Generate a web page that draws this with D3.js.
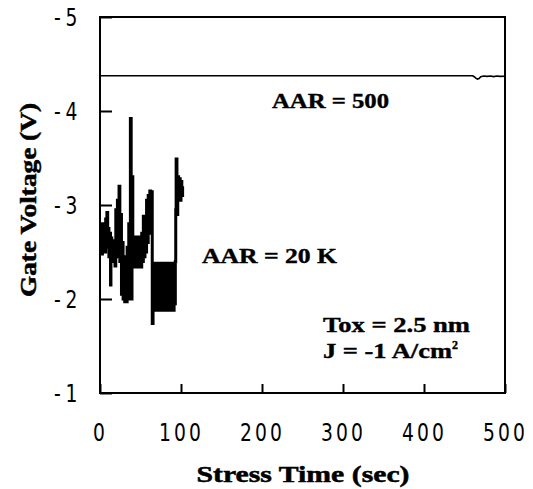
<!DOCTYPE html>
<html>
<head>
<meta charset="utf-8">
<script src="https://cdn.jsdelivr.net/npm/d3@7"></script>
<style>
body { margin: 0; background: #fff; }
#graph { width: 533px; height: 489px; }
</style>
</head>
<body>
<div id="graph"></div>
<script>
// tick values
var xTicks = [0, 100, 200, 300, 400, 500];
var yTicks = [-1, -2, -3, -4, -5];

// AAR = 500 trace (stress time in sec, gate voltage in V)
var aar500Time = [0, 460, 462, 464, 466, 468, 470, 474, 478, 482, 486, 490, 494, 500];
var aar500Volt = [-4.375, -4.375, -4.365, -4.35, -4.34, -4.345, -4.365, -4.372, -4.368, -4.372, -4.366, -4.372, -4.368, -4.37];

// AAR = 20 K trace (noisy)
var aar20kTime = [0, 1, 2, 3, 4, 5, 6, 7, 8, 8.5, 9.5, 10, 11, 12, 13, 13.5, 14.5, 15.5, 16.5, 17.5,
  18.5, 19.5, 20.5, 21.5, 22.5, 23.5, 24.5, 25.5, 26.5, 27.5, 28.5, 29.5, 30.5, 31.5, 32.5, 33.5, 34.5, 35.5, 36.5, 37.5,
  38.5, 39.5, 40.5, 41.5, 42.5, 43.5, 44.5, 45.5, 46.5, 47.5, 48.5, 49.5, 50.5, 51.5, 52.5, 53.5, 54.5, 55.5, 56.5, 57.5,
  58.5, 59.5, 60.5, 61.5, 62.5, 63.5, 64.5, 65.5, 66.5, 67.5, 68.5, 69.5, 70.5, 71.5, 72.5, 73.5, 74.5, 75.5, 76.5, 77.5,
  78.5, 79.5, 80.5, 81.5, 82.5, 83.5, 84.5, 85.5, 86.5, 87.5, 88.5, 89.5, 90.5, 91.5, 92.5, 93, 93.5, 94, 95, 96,
  97, 98, 99, 100, 101, 102];
var aar20kVolt = [-2.50, -2.72, -2.48, -2.80, -2.55, -2.78, -2.50, -2.85, -2.60, -2.92, -2.55, -2.75, -2.45, -2.70, -2.15, -2.65, -2.45, -2.62, -2.40, -2.55,
  -2.35, -2.95, -2.45, -3.05, -2.50, -3.20, -2.40, -2.90, -2.05, -2.60, -2.00, -2.45, -1.97, -2.40, -1.97, -2.55, -2.30, -2.80, -2.00, -3.92,
  -2.00, -3.30, -2.35, -2.65, -2.34, -2.66, -2.34, -2.66, -2.34, -2.66, -2.34, -2.66, -2.34, -2.70, -2.40, -2.88, -2.45, -2.80, -2.50, -3.05,
  -2.60, -3.10, -2.70, -3.15, -2.80, -3.14, -1.74, -2.38, -1.88, -2.38, -1.90, -2.38, -1.88, -2.38, -1.89, -2.38, -1.88, -2.38, -1.90, -2.38,
  -1.88, -2.38, -1.89, -2.38, -1.88, -2.38, -1.90, -2.38, -1.88, -2.38, -1.90, -2.38, -1.88, -2.38, -1.95, -2.40, -2.95, -3.49, -2.90, -3.30,
  -3.10, -3.28, -3.05, -3.25, -3.10, -3.20];

var margin = { top: 17, right: 28, bottom: 96, left: 100 },
    width = 533 - margin.left - margin.right,
    height = 489 - margin.top - margin.bottom;

var x = d3.scaleLinear().domain([0, 500]).range([0, width]);
var y = d3.scaleLinear().domain([-1, -5]).range([height, 0]);

var svg = d3.select("#graph").append("svg")
    .attr("width", 533)
    .attr("height", 489)
    .append("g")
    .attr("transform", "translate(" + margin.left + "," + margin.top + ")");

var tickFmt = d => "-" + Math.abs(d);

// x axis, ticks pointing inward
var xAxis = svg.append("g")
    .attr("transform", "translate(0," + height + ")")
    .call(d3.axisBottom(x).tickValues(xTicks).tickSizeInner(-9).tickSizeOuter(0).tickFormat(d => d));
xAxis.select(".domain").remove();
xAxis.selectAll("line").attr("stroke-width", 2);
xAxis.selectAll("text")
    .attr("y", 48)
    .attr("dy", null)
    .attr("transform", "scale(0.78,1)")
    .style("font-family", "DejaVu Sans")
    .style("font-size", "24px")
    .style("letter-spacing", "4px")
    .attr("fill", "#000");

// y axis
var yAxis = svg.append("g")
    .call(d3.axisLeft(y).tickValues(yTicks).tickSizeInner(-12).tickSizeOuter(0).tickFormat(tickFmt));
yAxis.select(".domain").remove();
yAxis.selectAll("line").attr("stroke-width", 2);
yAxis.selectAll("text")
    .attr("x", -18 / 0.78)
    .attr("dy", "0.36em")
    .attr("transform", "scale(0.78,1)")
    .style("font-family", "DejaVu Sans")
    .style("font-size", "24px")
    .style("letter-spacing", "6px")
    .attr("fill", "#000");

// plot frame
svg.append("rect")
    .attr("x", 0).attr("y", 0)
    .attr("width", width).attr("height", height)
    .attr("fill", "none")
    .attr("stroke", "#000")
    .attr("stroke-width", 2);

var line = d3.line()
    .x(d => x(d[0]))
    .y(d => y(d[1]));

svg.append("path")
    .datum(d3.zip(aar500Time, aar500Volt))
    .attr("d", line)
    .attr("fill", "none")
    .attr("stroke", "#000")
    .attr("stroke-width", 1.6);

svg.append("path")
    .datum(d3.zip(aar20kTime, aar20kVolt))
    .attr("d", line.curve(d3.curveStepAfter))
    .attr("fill", "none")
    .attr("stroke", "#000")
    .attr("stroke-width", 3);

// axis titles
var root = d3.select("#graph svg");
root.append("text")
    .attr("x", 303).attr("y", 482)
    .attr("text-anchor", "middle")
    .attr("textLength", 213).attr("lengthAdjust", "spacingAndGlyphs")
    .style("font-family", "Liberation Serif")
    .style("font-weight", "bold")
    .style("font-size", "23px")
    .attr("stroke", "#000").attr("stroke-width", 0.5)
    .text("Stress Time (sec)");

root.append("text")
    .attr("transform", "translate(36,200) rotate(-90)")
    .attr("text-anchor", "middle")
    .attr("textLength", 194).attr("lengthAdjust", "spacingAndGlyphs")
    .style("font-family", "Liberation Serif")
    .style("font-weight", "bold")
    .style("font-size", "23px")
    .attr("stroke", "#000").attr("stroke-width", 0.5)
    .text("Gate Voltage (V)");

// annotations
var notes = [
    { t: "AAR = 500", x: 272, y: 108, w: 117 },
    { t: "AAR = 20 K", x: 202, y: 263, w: 135 },
    { t: "Tox =  2.5 nm", x: 323, y: 332, w: 147 }
];
notes.forEach(function (n) {
    root.append("text")
        .attr("x", n.x).attr("y", n.y)
        .attr("textLength", n.w).attr("lengthAdjust", "spacingAndGlyphs")
        .style("font-family", "Liberation Serif")
        .style("font-weight", "bold")
        .style("font-size", "22px")
        .attr("stroke", "#000").attr("stroke-width", 0.4)
        .text(n.t);
});

var jt = root.append("text")
    .attr("x", 323).attr("y", 358)
    .style("font-family", "Liberation Serif")
    .style("font-weight", "bold")
    .style("font-size", "22px")
    .attr("stroke", "#000").attr("stroke-width", 0.4);
jt.append("tspan").attr("textLength", 129).attr("lengthAdjust", "spacingAndGlyphs").text("J = -1 A/cm");
jt.append("tspan").attr("dy", -9).style("font-size", "12px").text("2");
</script>
</body>
</html>
